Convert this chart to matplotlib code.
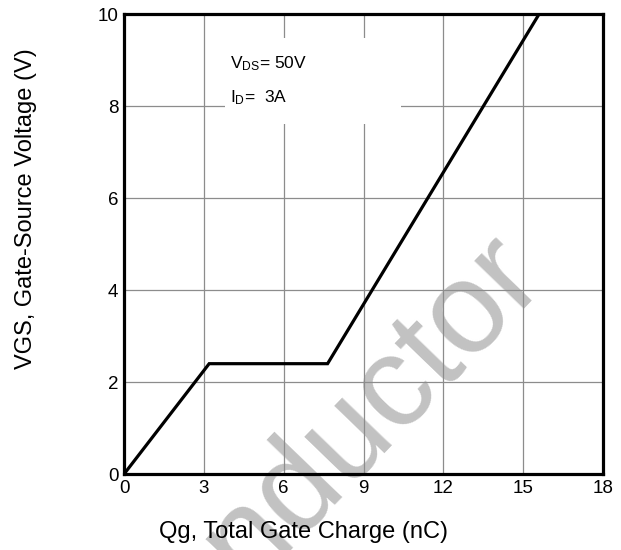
import matplotlib
matplotlib.use("Agg")
import matplotlib.pyplot as plt
from matplotlib.patches import Rectangle

plt.rcParams['font.family'] = ['Liberation Sans', 'DejaVu Sans']
plt.rcParams['mathtext.default'] = 'regular'

# gate charge curve (nC, V)
qg = [0, 3.2, 7.65, 15.6]
vgs = [0, 2.4, 2.4, 10]

x_ticks = [0, 3, 6, 9, 12, 15, 18]
y_ticks = [0, 2, 4, 6, 8, 10]

fig = plt.figure(figsize=(6.21, 5.5), dpi=100)
ax = fig.add_axes([0.1997, 0.138, 0.7713, 0.8365])
ax.set_facecolor('none')

ax.plot(qg, vgs, color='black', lw=2.3, zorder=5, solid_joinstyle='miter')

ax.set_xlim(0, 18)
ax.set_ylim(0, 10)
ax.set_xticks(x_ticks)
ax.set_yticks(y_ticks)
ax.tick_params(length=0, labelsize=13.5, pad=4)
ax.grid(True, color='#8c8c8c', lw=0.9, zorder=1)
ax.set_axisbelow(True)
for s in ax.spines.values():
    s.set_linewidth(2.3)
    s.set_zorder(6)

# white box behind the conditions text
ax.add_patch(Rectangle((3.8, 7.6), 6.6, 1.88, facecolor='white', edgecolor='none', zorder=2))
ax.text(3.98, 8.83, r'V$_{DS}$= 50V', fontsize=12.5, zorder=3)
ax.text(3.98, 8.09, r'I$_{D}$=  3A', fontsize=12.5, zorder=3)

ax.set_xlabel('Qg, Total Gate Charge (nC)', fontsize=17)
ax.set_ylabel('VGS, Gate-Source Voltage (V)', fontsize=17)
ax.xaxis.set_label_coords(0.374, -0.102)
ax.yaxis.set_label_coords(-0.181, 0.577)

# watermark, behind the axes
fig.text(0.637, 0.214, 'nductor', fontsize=93, color='#c2c2c2', rotation=46,
         rotation_mode='anchor', ha='center', va='baseline', zorder=-1)

fig.savefig('out.png', dpi=100)
